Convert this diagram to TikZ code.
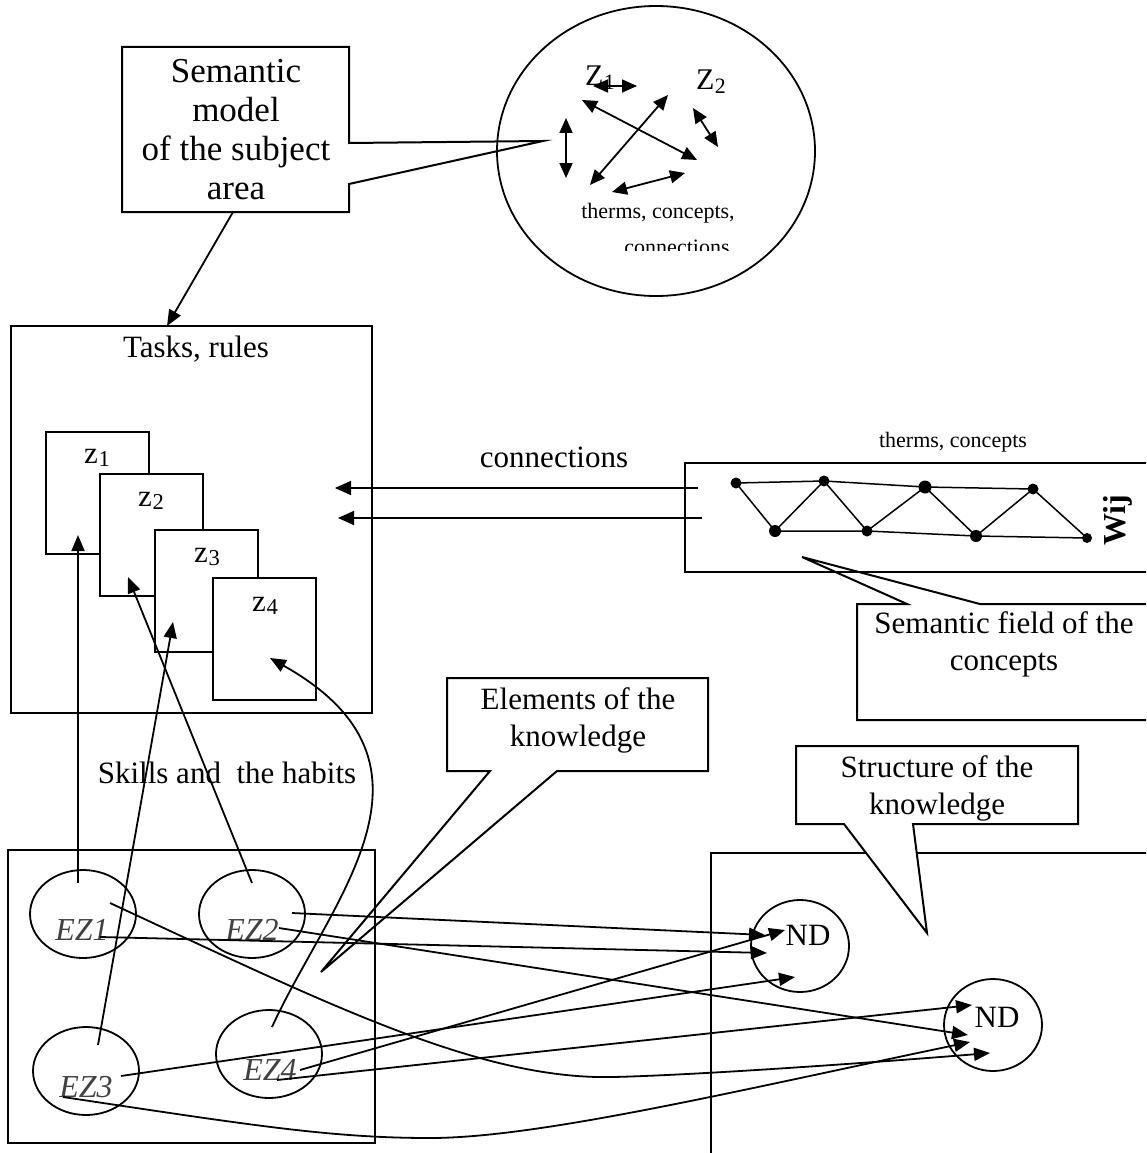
\documentclass[tikz,border=0pt]{standalone}
\usepackage{fontspec}
\setmainfont{Liberation Serif}
\usetikzlibrary{arrows.meta,shapes.geometric}
\definecolor{ezgray}{RGB}{65,65,65}
\newcommand\zlab[2]{#1\kern0.02em\raisebox{-0.12em}{\scalebox{0.73}{#2}}}
\begin{document}
\begin{tikzpicture}[x=1pt,y=-1pt,line width=1.8pt,
  every node/.style={inner sep=0pt,outer sep=0pt},
  txt/.style={font=\fontsize{31}{37}\selectfont,align=center},
  bigtxt/.style={font=\fontsize{35}{39}\selectfont,align=center},
  smalltxt/.style={font=\fontsize{22}{26}\selectfont},
  ezlab/.style={font=\fontsize{32}{36}\selectfont\itshape,text=ezgray},
  boxline/.style={draw,line width=2pt},
  zbox/.style={draw,fill=white,line width=2pt,minimum width=103pt,minimum height=122pt,anchor=north west},
  ezell/.style={draw,ellipse,minimum width=106pt,minimum height=88pt},
  ndell/.style={draw,ellipse,minimum width=98pt,minimum height=92pt},
  arr/.style={-{Triangle[length=16pt,width=13pt]}},
  arrbig/.style={-{Triangle[length=16pt,width=14pt]}},
  darr/.style={{Triangle[length=15pt,width=13pt]}-{Triangle[length=15pt,width=13pt]}},
  ndot/.style={circle,fill=black,minimum size=11pt},
]
\clip (0,0) rectangle (1146,1153);

% ---------- top ellipse ----------
\node[draw,ellipse,minimum width=318pt,minimum height=290pt] (sem) at (656,151) {};
\node[font=\fontsize{30}{32}\selectfont,anchor=base west] (zA) at (585,86) {\zlab{Z}{1}};
\node[font=\fontsize{30}{32}\selectfont,anchor=base west] (zB) at (696,90) {\zlab{Z}{2}};
\coordinate (m1a) at (593,86);  \coordinate (m1b) at (637,86);
\coordinate (m2a) at (582,100); \coordinate (m2b) at (697,160);
\coordinate (m3a) at (668,95);  \coordinate (m3b) at (590,185);
\coordinate (m4a) at (693,108); \coordinate (m4b) at (718,147);
\coordinate (m5a) at (566,118); \coordinate (m5b) at (566,178);
\coordinate (m6a) at (612,192); \coordinate (m6b) at (685,173);
\draw[darr] (m1a) -- (m1b);
\draw[darr] (m2a) -- (m2b);
\draw[darr] (m3a) -- (m3b);
\draw[darr] (m4a) -- (m4b);
\draw[darr] (m5a) -- (m5b);
\draw[darr] (m6a) -- (m6b);
\node[smalltxt,anchor=base] (tc) at (658,218) {therms, concepts,};
\begin{scope}
\clip (560,225) rectangle (780,250);
\node[smalltxt,anchor=base] (cn) at (677,254) {connections};
\end{scope}

% ---------- callout: semantic model ----------
\draw[boxline] (122,47) -- (349,47) -- (349,143) -- (543,141) -- (349,184) -- (349,212) -- (122,212) -- cycle;
\node[bigtxt,anchor=north] (smtext) at (236,59) {Semantic\\model\\of the subject\\area};
\coordinate (smfoot) at (233,212);
\coordinate (tasktop) at (167,326);
\draw[arr] (smfoot) -- (tasktop);

% ---------- tasks box ----------
\node[boxline,minimum width=361pt,minimum height=387pt,anchor=north west] (tasks) at (11,326) {};
\node[txt,anchor=base] (taskslab) at (196,357) {Tasks, rules};
\node[zbox] (z1) at (46,432) {};
\node[txt,anchor=base] (z1t) at (97,463) {\zlab{z}{1}};
\node[zbox] (z2) at (100,474) {};
\node[txt,anchor=base] (z2t) at (151,506) {\zlab{z}{2}};
\node[zbox] (z3) at (155,530) {};
\node[txt,anchor=base] (z3t) at (207,562) {\zlab{z}{3}};
\node[zbox] (z4) at (213,578) {};
\node[txt,anchor=base] (z4t) at (265,611) {\zlab{z}{4}};

% ---------- connections ----------
\node[txt,anchor=base] (conlab) at (554,467) {connections};
\coordinate (c1s) at (698,488); \coordinate (c1e) at (335,488);
\coordinate (c2s) at (702,518); \coordinate (c2e) at (338,518);
\draw[arrbig] (c1s) -- (c1e);
\draw[arrbig] (c2s) -- (c2e);

% ---------- semantic field ----------
\node[smalltxt,anchor=base] (tc2) at (953,447) {therms, concepts};
\draw[boxline] (857,720) -- (857,604) -- (907,604) -- (802,557) -- (980,604) -- (1165,604) -- (1165,720) -- cycle;
\node[txt,anchor=north] (sflab) at (1004,612) {Semantic field of the\\concepts};
\node[boxline,anchor=north west,minimum width=480pt,minimum height=109pt] (fieldbox) at (685,463) {};
\node[ndot] (a1) at (736,483) {};
\node[ndot] (a2) at (824,481) {};
\node[ndot,minimum size=13pt] (a3) at (925,487) {};
\node[ndot] (a4) at (1033,489) {};
\node[ndot,minimum size=12pt] (b1) at (775,531) {};
\node[ndot] (b2) at (867,531) {};
\node[ndot,minimum size=12pt] (b3) at (976,536) {};
\node[ndot,minimum size=10pt] (b4) at (1087,538) {};
\draw[line width=1.5pt] (a1.center) -- (a2.center) -- (a3.center) -- (a4.center);
\draw[line width=1.5pt] (b1.center) -- (b2.center) -- (b3.center) -- (b4.center);
\draw[line width=1.5pt] (a1.center) -- (b1.center) -- (a2.center) -- (b2.center) -- (a3.center) -- (b3.center) -- (a4.center) -- (b4.center);
\node[rotate=90,anchor=base,font=\fontsize{32}{34}\selectfont\bfseries] (wij) at (1125,520) {Wij};

% ---------- elements callout ----------
\draw[boxline] (447,678) -- (708,678) -- (708,771) -- (557,771) -- (321,972) -- (490,771) -- (447,771) -- cycle;
\node[txt,anchor=north] (ellab) at (578,688) {Elements of the\\knowledge};

\node[txt,anchor=base] (skills) at (227,783) {Skills and\ \ the habits};

% ---------- EZ box ----------
\node[boxline,anchor=north west,minimum width=367pt,minimum height=293pt] (ezbox) at (8,850) {};
\node[ezell] (ez1) at (83,914) {};
\node[ezlab,anchor=base] (ez1t) at (82,940) {EZ1};
\node[ezell] (ez2) at (252,914) {};
\node[ezlab,anchor=base] (ez2t) at (252,940) {EZ2};
\node[ezell] (ez3) at (86,1071) {};
\node[ezlab,anchor=base] (ez3t) at (86,1097) {EZ3};
\node[ezell] (ez4) at (269,1054) {};
\node[ezlab,anchor=base] (ez4t) at (270,1080) {EZ4};

% ---------- ND box ----------
\node[boxline,anchor=north west,minimum width=460pt,minimum height=320pt] (ndbox) at (711,853) {};
\draw[boxline,fill=white] (796,746) -- (1078,746) -- (1078,824) -- (913,824) -- (927,933) -- (844,824) -- (796,824) -- cycle;
\node[txt,anchor=north] (stlab) at (937,756) {Structure of the\\knowledge};
\node[ndell] (nd1) at (800,946) {};
\node[txt,anchor=base] (nd1t) at (808,945) {ND};
\node[ndell] (nd2) at (993,1025) {};
\node[txt,anchor=base] (nd2t) at (997,1027) {ND};

% ---------- connectors ----------
\coordinate (s11) at (78,883);   \coordinate (e11) at (78,535);
\coordinate (s22) at (252,883);  \coordinate (e22) at (128,577);
\coordinate (s33) at (98,1045);  \coordinate (e33) at (173,622);
\coordinate (s44) at (272,1027); \coordinate (e44) at (270,658);
\coordinate (s2n1) at (292,913); \coordinate (e2n1) at (765,935);
\coordinate (s1n1) at (100,937); \coordinate (e1n1) at (767,953);
\coordinate (s2n2) at (279,928); \coordinate (e2n2) at (968,1035);
\coordinate (s3n1) at (121,1076); \coordinate (e3n1) at (795,977);
\coordinate (s4n1) at (300,1070); \coordinate (e4n1) at (785,930);
\coordinate (s4n2) at (277,1080); \coordinate (e4n2) at (972,1005);
\coordinate (s1n2) at (110,903); \coordinate (e1n2) at (990,1053);
\coordinate (s3n2) at (63,1097); \coordinate (e3n2) at (970,1042);

\draw[arr] (s11) -- (e11);
\draw[arr] (s22) -- (e22);
\draw[arr] (s33) -- (e33);
\draw[arr] (s44) .. controls (330,900) and (460,765) .. (e44);
\draw[arr] (s2n1) -- (e2n1);
\draw[arr] (s1n1) -- (e1n1);
\draw[arr] (s2n2) -- (e2n2);
\draw[arr] (s3n1) -- (e3n1);
\draw[arr] (s4n1) -- (e4n1);
\draw[arr] (s4n2) -- (e4n2);
\draw[arr] (s1n2) .. controls (330,1005) and (480,1080) .. (613,1077) .. controls (700,1075) and (880,1062) .. (e1n2);
\draw[arr] (s3n2) .. controls (250,1125) and (330,1138) .. (430,1138) .. controls (540,1138) and (740,1090) .. (e3n2);
\end{tikzpicture}
\end{document}
